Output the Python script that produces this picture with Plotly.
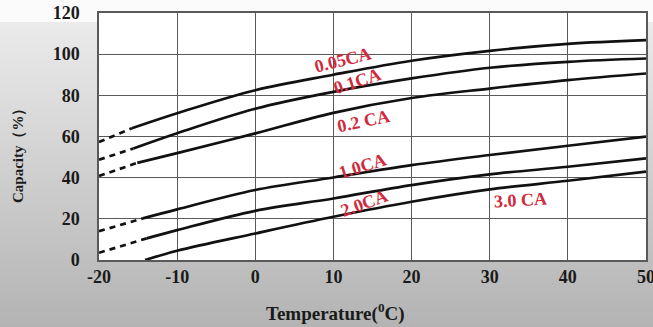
import plotly.graph_objects as go

# ---------------- data ----------------
x_ticks = [-20, -10, 0, 10, 20, 30, 40, 50]
x_tick_labels = ["-20", "-10", "0", "10", "20", "30", "40", "50"]
y_ticks = [0, 20, 40, 60, 80, 100, 120]
y_tick_labels = ["0", "20", "40", "60", "80", "100", "120"]

series_names = ["0.05CA", "0.1CA", "0.2 CA", "1.0CA", "2.0CA", "3.0 CA"]

# solid parts
ca005_x = [-15.8, -10, 0, 10, 20, 30, 40, 50]
ca005_y = [64.0, 71.3, 82.5, 90.0, 96.8, 101.6, 105.0, 106.8]
ca01_x = [-15.6, -10, 0, 10, 20, 30, 40, 50]
ca01_y = [54.2, 61.6, 73.5, 81.7, 88.2, 93.4, 96.3, 97.9]
ca02_x = [-15.1, -10, 0, 10, 20, 30, 40, 50]
ca02_y = [47.2, 51.9, 61.5, 71.5, 78.7, 83.3, 87.4, 90.6]
ca10_x = [-14.4, -10, 0, 10, 20, 30, 40, 50]
ca10_y = [20.2, 24.6, 34.0, 40.1, 46.1, 51.0, 55.5, 59.9]
ca20_x = [-13.9, -10, 0, 10, 20, 30, 40, 50]
ca20_y = [10.5, 14.5, 23.9, 29.9, 36.4, 41.6, 45.3, 49.4]
ca30_x = [-14.1, -10, 0, 10, 20, 30, 40, 50]
ca30_y = [0.0, 4.5, 12.9, 21.0, 28.3, 34.3, 38.5, 42.9]

# dashed (extrapolated) parts
ca005_dx = [-20, -15.8]
ca005_dy = [57.3, 64.0]
ca01_dx = [-20, -15.6]
ca01_dy = [48.7, 54.2]
ca02_dx = [-20, -15.1]
ca02_dy = [40.8, 47.2]
ca10_dx = [-20, -14.4]
ca10_dy = [14.0, 20.2]
ca20_dx = [-20, -13.9]
ca20_dy = [3.5, 10.5]

# label anchor positions (data coords) and angles
label_x = [11.2, 13.1, 13.9, 13.7, 14.0, 34.0]
label_y = [97.2, 86.8, 67.5, 45.9, 27.6, 29.2]
label_angle = [-14, -18, -12, -17, -20, -3]

# ---------------- figure ----------------
fig = go.Figure()

solid = [(ca005_x, ca005_y), (ca01_x, ca01_y), (ca02_x, ca02_y),
         (ca10_x, ca10_y), (ca20_x, ca20_y), (ca30_x, ca30_y)]
dashed = [(ca005_dx, ca005_dy), (ca01_dx, ca01_dy), (ca02_dx, ca02_dy),
          (ca10_dx, ca10_dy), (ca20_dx, ca20_dy)]

for name, (xs, ys) in zip(series_names, solid):
    fig.add_trace(go.Scatter(x=xs, y=ys, mode="lines", name=name,
                             line=dict(color="#111111", width=2.7, shape="spline", smoothing=1.0),
                             showlegend=False, hoverinfo="skip"))
for name, (xs, ys) in zip(series_names, dashed):
    fig.add_trace(go.Scatter(x=xs, y=ys, mode="lines", name=name + " ext",
                             line=dict(color="#111111", width=2.7, dash="6px,5px"),
                             showlegend=False, hoverinfo="skip"))

W, H = 653, 327
L, R, T, B = 99, 646, 13, 260
def px_to_paper_x(px):
    return (px - L) / (R - L)
def px_to_paper_y(py):
    return (B - py) / (B - T)

serif = "Liberation Serif, Times New Roman, serif"

annotations = []
for name, lx, ly, ang in zip(series_names, label_x, label_y, label_angle):
    annotations.append(dict(x=lx, y=ly, xref="x", yref="y", text="<b>%s</b>" % name,
                            showarrow=False, textangle=ang,
                            font=dict(family=serif, size=18, color="#d02a3c")))

annotations.append(dict(x=px_to_paper_x(335), y=px_to_paper_y(312), xref="paper", yref="paper",
                        xanchor="center", yanchor="middle",
                        text="<b>Temperature(<sup>0</sup>C)</b>", showarrow=False,
                        font=dict(family=serif, size=19, color="#1a1a1a")))
annotations.append(dict(x=px_to_paper_x(18), y=px_to_paper_y(152), xref="paper", yref="paper",
                        xanchor="center", yanchor="middle",
                        text="<b>Capacity（%）</b>", showarrow=False, textangle=-90,
                        font=dict(family=serif, size=15, color="#1a1a1a")))

fig.update_layout(
    width=W, height=H, autosize=False,
    margin=dict(l=L, r=W - R, t=T, b=H - B, autoexpand=False),
    paper_bgcolor="rgba(0,0,0,0)", plot_bgcolor="white",
    annotations=annotations, showlegend=False,
)
fig.update_xaxes(range=[-20, 50], tickvals=x_ticks, ticktext=x_tick_labels,
                 showgrid=True, gridcolor="#5a5a5a", gridwidth=1,
                 showline=True, linecolor="#5a5a5a", linewidth=1.5, mirror=True,
                 zeroline=False, ticks="", ticklabelstandoff=0, automargin=False,
                 ticklabeloverflow="allow",
                 tickfont=dict(family=serif, size=18, color="#1a1a1a", weight="bold"))
fig.update_yaxes(range=[0, 120], tickvals=y_ticks, ticktext=y_tick_labels,
                 showgrid=True, gridcolor="#5a5a5a", gridwidth=1,
                 showline=True, linecolor="#5a5a5a", linewidth=1.5, mirror=True,
                 zeroline=False, ticks="", ticklabelstandoff=14, automargin=False,
                 ticklabeloverflow="allow",
                 tickfont=dict(family=serif, size=18, color="#1a1a1a", weight="bold"))

# page styling: no body margin, grey gradient page background
post_js = ("document.body.style.margin='0';"
           "document.body.style.background='linear-gradient(#fbfbfb 0px,#fbfbfb 22px,#ebebeb 22px,#b3b3b3 327px)';"
           "document.documentElement.style.background='#b3b3b3';")
fig.write_html("out.html", post_script=post_js, config={"displayModeBar": False})
